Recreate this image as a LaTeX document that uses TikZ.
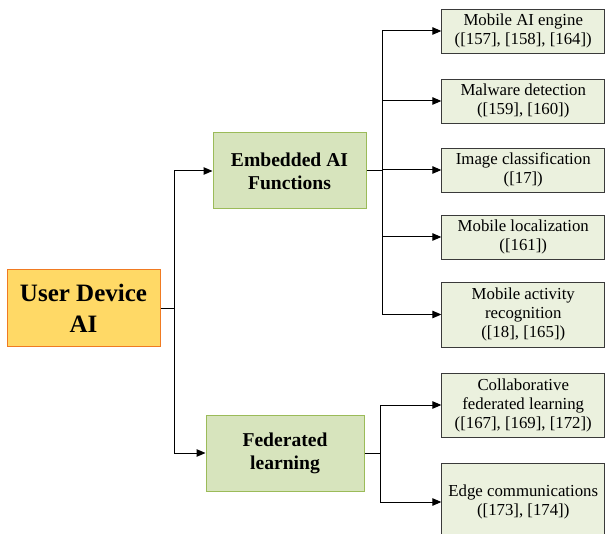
\documentclass[tikz,border=0pt]{standalone}
\usepackage{fontspec}
\setmainfont{Liberation Serif}
\usetikzlibrary{arrows.meta}
\definecolor{rootfill}{HTML}{FFD966}
\definecolor{rootline}{HTML}{F07A22}
\definecolor{midfill}{HTML}{D7E4BD}
\definecolor{midline}{HTML}{9BBB59}
\definecolor{leaffill}{HTML}{EBF1DE}
\definecolor{leafline}{HTML}{3A3A3A}
\tikzset{
  rootbox/.style={draw=rootline, fill=rootfill, line width=1pt, align=center,
    minimum width=153pt, minimum height=77pt, inner sep=0pt,
    font=\fontsize{25}{31}\selectfont\bfseries},
  midbox/.style={draw=midline, fill=midfill, line width=1pt, align=center,
    minimum height=76pt, inner sep=0pt,
    font=\fontsize{19.6}{23}\selectfont\bfseries},
  leafbox/.style={draw=leafline, fill=leaffill, line width=0.8pt, align=center,
    minimum width=163pt, inner sep=0pt,
    font=\fontsize{16.8}{19}\selectfont},
  link/.style={line width=1pt, -{Triangle[length=9pt,width=7.5pt]}},
  trunk/.style={line width=1pt}
}
\begin{document}
\begin{tikzpicture}[x=1pt, y=-1pt]
\useasboundingbox (0,0) rectangle (605,534);

% root and second level
\node[rootbox] (root) at (83.5,308.5) {User Device\\AI};
\node[midbox, minimum width=153pt] (emb) at (289.5,171) {Embedded AI\\Functions};
\node[midbox, minimum width=158pt] (fed) at (285,453) {Federated\\learning};

% leaves of the embedded branch
\node[leafbox, minimum height=44pt] (l1) at (523.25,31) {Mobile AI engine\\([157], [158], [164])};
\node[leafbox, minimum height=44pt] (l2) at (523.25,101) {Malware detection\\([159], [160])};
\node[leafbox, minimum height=44pt] (l3) at (523.25,170) {Image classification\\([17])};
\node[leafbox, minimum height=44pt] (l4) at (523.25,237) {Mobile localization\\([161])};
\node[leafbox, minimum height=65pt] (l5) at (523.25,314.5) {Mobile activity\\recognition\\([18], [165])};

% leaves of the federated branch
\node[leafbox, minimum height=64pt] (f1) at (523.25,405) {Collaborative\\federated learning\\([167], [169], [172])};
\node[leafbox, minimum height=78pt] (f2) at (523.25,502) {Edge communications\\([173], [174])};

% branch points
\coordinate (r0) at (174,308.5);
\coordinate (e0) at (382,171);
\coordinate (g0) at (380,453);

% root to second level
\draw[trunk] (root.east) -- (r0);
\draw[link] (r0) |- (emb.west);
\draw[link] (r0) |- (fed.west);

% embedded branch
\draw[trunk] (emb.east) -- (e0);
\foreach \n in {l1,l2,l3,l4,l5}
  \draw[link] (e0) |- (\n.west);

% federated branch
\draw[trunk] (fed.east) -- (g0);
\foreach \n in {f1,f2}
  \draw[link] (g0) |- (\n.west);
\end{tikzpicture}
\end{document}
